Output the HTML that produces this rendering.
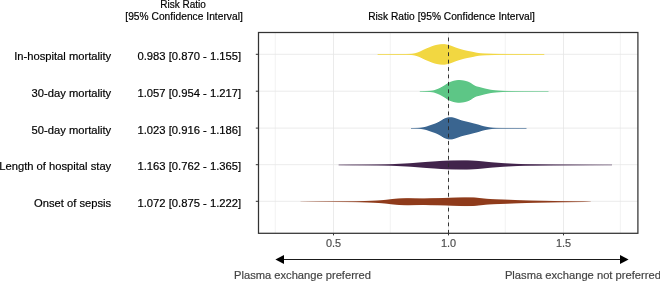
<!DOCTYPE html>
<html><head><meta charset="utf-8"><title>Forest plot</title>
<style>html,body{margin:0;padding:0;background:#fff;}body{width:660px;height:282px;position:relative;overflow:hidden;font-family:"Liberation Sans",sans-serif;}</style></head>
<body>
<svg width="660" height="282" viewBox="0 0 660 282" style="position:absolute;left:0;top:0;will-change:transform">
<rect x="0" y="0" width="660" height="282" fill="#ffffff"/>
<line x1="275.3" y1="32.5" x2="275.3" y2="233.3" stroke="#e9e9e9" stroke-width="0.55"/>
<line x1="390.3" y1="32.5" x2="390.3" y2="233.3" stroke="#e9e9e9" stroke-width="0.55"/>
<line x1="505.3" y1="32.5" x2="505.3" y2="233.3" stroke="#e9e9e9" stroke-width="0.55"/>
<line x1="620.4" y1="32.5" x2="620.4" y2="233.3" stroke="#e9e9e9" stroke-width="0.55"/>
<line x1="333.5" y1="32.5" x2="333.5" y2="233.3" stroke="#e6e6e6" stroke-width="0.8"/>
<line x1="448.5" y1="32.5" x2="448.5" y2="233.3" stroke="#e6e6e6" stroke-width="0.8"/>
<line x1="563.5" y1="32.5" x2="563.5" y2="233.3" stroke="#e6e6e6" stroke-width="0.8"/>
<line x1="258.5" y1="54.3" x2="637.9" y2="54.3" stroke="#e6e6e6" stroke-width="0.8"/>
<line x1="258.5" y1="91.2" x2="637.9" y2="91.2" stroke="#e6e6e6" stroke-width="0.8"/>
<line x1="258.5" y1="128.1" x2="637.9" y2="128.1" stroke="#e6e6e6" stroke-width="0.8"/>
<line x1="258.5" y1="164.7" x2="637.9" y2="164.7" stroke="#e6e6e6" stroke-width="0.8"/>
<line x1="258.5" y1="201.3" x2="637.9" y2="201.3" stroke="#e6e6e6" stroke-width="0.8"/>
<g fill="#F2D741" shape-rendering="auto"><rect x="377.6" y="54.02" width="0.4" height="0.76"/><rect x="378" y="54.02" width="1" height="0.76"/><rect x="379" y="54.02" width="1" height="0.76"/><rect x="380" y="54.02" width="1" height="0.76"/><rect x="381" y="54.02" width="1" height="0.77"/><rect x="382" y="54.02" width="1" height="0.77"/><rect x="383" y="54.02" width="1" height="0.77"/><rect x="384" y="54.01" width="1" height="0.77"/><rect x="385" y="54.01" width="1" height="0.77"/><rect x="386" y="54.01" width="1" height="0.78"/><rect x="387" y="54.01" width="1" height="0.78"/><rect x="388" y="54.01" width="1" height="0.78"/><rect x="389" y="54.01" width="1" height="0.78"/><rect x="390" y="54.01" width="1" height="0.79"/><rect x="391" y="54.01" width="1" height="0.79"/><rect x="392" y="54.00" width="1" height="0.79"/><rect x="393" y="54.00" width="1" height="0.80"/><rect x="394" y="54.00" width="1" height="0.80"/><rect x="395" y="54.00" width="1" height="0.80"/><rect x="396" y="54.00" width="1" height="0.80"/><rect x="397" y="54.00" width="1" height="0.81"/><rect x="398" y="54.00" width="1" height="0.81"/><rect x="399" y="53.99" width="1" height="0.81"/><rect x="400" y="53.99" width="1" height="0.82"/><rect x="401" y="53.99" width="1" height="0.82"/><rect x="402" y="53.99" width="1" height="0.82"/><rect x="403" y="53.99" width="1" height="0.83"/><rect x="404" y="53.98" width="1" height="0.84"/><rect x="405" y="53.98" width="1" height="0.85"/><rect x="406" y="53.96" width="1" height="0.87"/><rect x="407" y="53.94" width="1" height="0.92"/><rect x="408" y="53.91" width="1" height="0.98"/><rect x="409" y="53.87" width="1" height="1.05"/><rect x="410" y="53.83" width="1" height="1.14"/><rect x="411" y="53.77" width="1" height="1.26"/><rect x="412" y="53.66" width="1" height="1.48"/><rect x="413" y="53.50" width="1" height="1.79"/><rect x="414" y="53.32" width="1" height="2.16"/><rect x="415" y="53.08" width="1" height="2.65"/><rect x="416" y="52.79" width="1" height="3.23"/><rect x="417" y="52.47" width="1" height="3.87"/><rect x="418" y="52.10" width="1" height="4.59"/><rect x="419" y="51.70" width="1" height="5.40"/><rect x="420" y="51.26" width="1" height="6.28"/><rect x="421" y="50.77" width="1" height="7.27"/><rect x="422" y="50.25" width="1" height="8.30"/><rect x="423" y="49.76" width="1" height="9.28"/><rect x="424" y="49.30" width="1" height="10.20"/><rect x="425" y="48.85" width="1" height="11.10"/><rect x="426" y="48.43" width="1" height="11.95"/><rect x="427" y="48.02" width="1" height="12.76"/><rect x="428" y="47.63" width="1" height="13.55"/><rect x="429" y="47.23" width="1" height="14.35"/><rect x="430" y="46.81" width="1" height="15.18"/><rect x="431" y="46.40" width="1" height="15.99"/><rect x="432" y="46.03" width="1" height="16.74"/><rect x="433" y="45.68" width="1" height="17.43"/><rect x="434" y="45.37" width="1" height="18.06"/><rect x="435" y="45.10" width="1" height="18.59"/><rect x="436" y="44.88" width="1" height="19.04"/><rect x="437" y="44.69" width="1" height="19.43"/><rect x="438" y="44.52" width="1" height="19.77"/><rect x="439" y="44.36" width="1" height="20.09"/><rect x="440" y="44.22" width="1" height="20.36"/><rect x="441" y="44.15" width="1" height="20.50"/><rect x="442" y="44.12" width="1" height="20.56"/><rect x="443" y="44.11" width="1" height="20.59"/><rect x="444" y="44.12" width="1" height="20.57"/><rect x="445" y="44.27" width="1" height="20.26"/><rect x="446" y="44.48" width="1" height="19.85"/><rect x="447" y="44.67" width="1" height="19.45"/><rect x="448" y="44.90" width="1" height="18.99"/><rect x="449" y="45.19" width="1" height="18.42"/><rect x="450" y="45.52" width="1" height="17.76"/><rect x="451" y="45.88" width="1" height="17.04"/><rect x="452" y="46.25" width="1" height="16.29"/><rect x="453" y="46.65" width="1" height="15.50"/><rect x="454" y="47.06" width="1" height="14.68"/><rect x="455" y="47.44" width="1" height="13.92"/><rect x="456" y="47.79" width="1" height="13.22"/><rect x="457" y="48.13" width="1" height="12.54"/><rect x="458" y="48.46" width="1" height="11.89"/><rect x="459" y="48.77" width="1" height="11.27"/><rect x="460" y="49.07" width="1" height="10.67"/><rect x="461" y="49.36" width="1" height="10.09"/><rect x="462" y="49.64" width="1" height="9.51"/><rect x="463" y="49.92" width="1" height="8.96"/><rect x="464" y="50.17" width="1" height="8.45"/><rect x="465" y="50.41" width="1" height="7.98"/><rect x="466" y="50.63" width="1" height="7.54"/><rect x="467" y="50.84" width="1" height="7.12"/><rect x="468" y="51.03" width="1" height="6.75"/><rect x="469" y="51.20" width="1" height="6.39"/><rect x="470" y="51.39" width="1" height="6.02"/><rect x="471" y="51.58" width="1" height="5.63"/><rect x="472" y="51.78" width="1" height="5.23"/><rect x="473" y="52.00" width="1" height="4.81"/><rect x="474" y="52.23" width="1" height="4.34"/><rect x="475" y="52.46" width="1" height="3.87"/><rect x="476" y="52.67" width="1" height="3.47"/><rect x="477" y="52.84" width="1" height="3.12"/><rect x="478" y="52.99" width="1" height="2.82"/><rect x="479" y="53.11" width="1" height="2.58"/><rect x="480" y="53.20" width="1" height="2.39"/><rect x="481" y="53.28" width="1" height="2.24"/><rect x="482" y="53.35" width="1" height="2.10"/><rect x="483" y="53.41" width="1" height="1.98"/><rect x="484" y="53.46" width="1" height="1.88"/><rect x="485" y="53.50" width="1" height="1.80"/><rect x="486" y="53.53" width="1" height="1.73"/><rect x="487" y="53.56" width="1" height="1.67"/><rect x="488" y="53.60" width="1" height="1.61"/><rect x="489" y="53.63" width="1" height="1.54"/><rect x="490" y="53.67" width="1" height="1.46"/><rect x="491" y="53.70" width="1" height="1.39"/><rect x="492" y="53.74" width="1" height="1.33"/><rect x="493" y="53.77" width="1" height="1.27"/><rect x="494" y="53.79" width="1" height="1.22"/><rect x="495" y="53.82" width="1" height="1.17"/><rect x="496" y="53.84" width="1" height="1.12"/><rect x="497" y="53.86" width="1" height="1.08"/><rect x="498" y="53.88" width="1" height="1.04"/><rect x="499" y="53.89" width="1" height="1.01"/><rect x="500" y="53.91" width="1" height="0.99"/><rect x="501" y="53.92" width="1" height="0.97"/><rect x="502" y="53.93" width="1" height="0.95"/><rect x="503" y="53.93" width="1" height="0.93"/><rect x="504" y="53.94" width="1" height="0.92"/><rect x="505" y="53.95" width="1" height="0.90"/><rect x="506" y="53.96" width="1" height="0.89"/><rect x="507" y="53.96" width="1" height="0.88"/><rect x="508" y="53.97" width="1" height="0.87"/><rect x="509" y="53.97" width="1" height="0.86"/><rect x="510" y="53.97" width="1" height="0.86"/><rect x="511" y="53.97" width="1" height="0.85"/><rect x="512" y="53.97" width="1" height="0.85"/><rect x="513" y="53.98" width="1" height="0.85"/><rect x="514" y="53.98" width="1" height="0.84"/><rect x="515" y="53.98" width="1" height="0.84"/><rect x="516" y="53.98" width="1" height="0.84"/><rect x="517" y="53.98" width="1" height="0.84"/><rect x="518" y="53.98" width="1" height="0.83"/><rect x="519" y="53.98" width="1" height="0.83"/><rect x="520" y="53.99" width="1" height="0.83"/><rect x="521" y="53.99" width="1" height="0.83"/><rect x="522" y="53.99" width="1" height="0.82"/><rect x="523" y="53.99" width="1" height="0.82"/><rect x="524" y="53.99" width="1" height="0.82"/><rect x="525" y="53.99" width="1" height="0.82"/><rect x="526" y="53.99" width="1" height="0.82"/><rect x="527" y="53.99" width="1" height="0.81"/><rect x="528" y="53.99" width="1" height="0.81"/><rect x="529" y="53.99" width="1" height="0.81"/><rect x="530" y="54.00" width="1" height="0.81"/><rect x="531" y="54.00" width="1" height="0.81"/><rect x="532" y="54.00" width="1" height="0.81"/><rect x="533" y="54.00" width="1" height="0.81"/><rect x="534" y="54.00" width="1" height="0.80"/><rect x="535" y="54.00" width="1" height="0.80"/><rect x="536" y="54.00" width="1" height="0.80"/><rect x="537" y="54.00" width="1" height="0.80"/><rect x="538" y="54.00" width="1" height="0.80"/><rect x="539" y="54.00" width="1" height="0.80"/><rect x="540" y="54.00" width="1" height="0.80"/><rect x="541" y="54.00" width="1" height="0.80"/><rect x="542" y="54.00" width="1" height="0.80"/><rect x="543" y="54.00" width="1" height="0.80"/><rect x="544" y="54.00" width="0.3" height="0.80"/></g>
<g fill="#5DC686" shape-rendering="auto"><rect x="419.8" y="91.10" width="0.2" height="0.60"/><rect x="420" y="91.09" width="1" height="0.62"/><rect x="421" y="91.08" width="1" height="0.65"/><rect x="422" y="91.06" width="1" height="0.68"/><rect x="423" y="91.04" width="1" height="0.73"/><rect x="424" y="91.01" width="1" height="0.77"/><rect x="425" y="90.99" width="1" height="0.83"/><rect x="426" y="90.96" width="1" height="0.89"/><rect x="427" y="90.92" width="1" height="0.96"/><rect x="428" y="90.88" width="1" height="1.05"/><rect x="429" y="90.82" width="1" height="1.16"/><rect x="430" y="90.74" width="1" height="1.32"/><rect x="431" y="90.64" width="1" height="1.53"/><rect x="432" y="90.51" width="1" height="1.79"/><rect x="433" y="90.33" width="1" height="2.13"/><rect x="434" y="90.06" width="1" height="2.68"/><rect x="435" y="89.71" width="1" height="3.39"/><rect x="436" y="89.34" width="1" height="4.12"/><rect x="437" y="88.97" width="1" height="4.87"/><rect x="438" y="88.56" width="1" height="5.69"/><rect x="439" y="88.11" width="1" height="6.59"/><rect x="440" y="87.60" width="1" height="7.60"/><rect x="441" y="87.05" width="1" height="8.70"/><rect x="442" y="86.49" width="1" height="9.83"/><rect x="443" y="85.90" width="1" height="10.99"/><rect x="444" y="85.30" width="1" height="12.20"/><rect x="445" y="84.66" width="1" height="13.47"/><rect x="446" y="83.97" width="1" height="14.86"/><rect x="447" y="83.28" width="1" height="16.24"/><rect x="448" y="82.70" width="1" height="17.39"/><rect x="449" y="82.24" width="1" height="18.33"/><rect x="450" y="81.83" width="1" height="19.14"/><rect x="451" y="81.47" width="1" height="19.87"/><rect x="452" y="81.12" width="1" height="20.55"/><rect x="453" y="80.82" width="1" height="21.16"/><rect x="454" y="80.58" width="1" height="21.64"/><rect x="455" y="80.39" width="1" height="22.02"/><rect x="456" y="80.21" width="1" height="22.37"/><rect x="457" y="80.08" width="1" height="22.64"/><rect x="458" y="80.01" width="1" height="22.78"/><rect x="459" y="80.02" width="1" height="22.76"/><rect x="460" y="80.09" width="1" height="22.62"/><rect x="461" y="80.19" width="1" height="22.41"/><rect x="462" y="80.31" width="1" height="22.17"/><rect x="463" y="80.46" width="1" height="21.87"/><rect x="464" y="80.66" width="1" height="21.48"/><rect x="465" y="80.90" width="1" height="21.01"/><rect x="466" y="81.17" width="1" height="20.47"/><rect x="467" y="81.47" width="1" height="19.86"/><rect x="468" y="81.84" width="1" height="19.11"/><rect x="469" y="82.30" width="1" height="18.21"/><rect x="470" y="82.82" width="1" height="17.16"/><rect x="471" y="83.47" width="1" height="15.87"/><rect x="472" y="84.18" width="1" height="14.45"/><rect x="473" y="84.82" width="1" height="13.17"/><rect x="474" y="85.40" width="1" height="12.00"/><rect x="475" y="85.93" width="1" height="10.95"/><rect x="476" y="86.32" width="1" height="10.15"/><rect x="477" y="86.59" width="1" height="9.62"/><rect x="478" y="86.81" width="1" height="9.18"/><rect x="479" y="87.05" width="1" height="8.69"/><rect x="480" y="87.32" width="1" height="8.16"/><rect x="481" y="87.59" width="1" height="7.62"/><rect x="482" y="87.86" width="1" height="7.09"/><rect x="483" y="88.12" width="1" height="6.56"/><rect x="484" y="88.38" width="1" height="6.04"/><rect x="485" y="88.62" width="1" height="5.56"/><rect x="486" y="88.84" width="1" height="5.12"/><rect x="487" y="89.05" width="1" height="4.69"/><rect x="488" y="89.26" width="1" height="4.27"/><rect x="489" y="89.48" width="1" height="3.84"/><rect x="490" y="89.68" width="1" height="3.44"/><rect x="491" y="89.84" width="1" height="3.12"/><rect x="492" y="89.97" width="1" height="2.86"/><rect x="493" y="90.08" width="1" height="2.64"/><rect x="494" y="90.18" width="1" height="2.44"/><rect x="495" y="90.28" width="1" height="2.25"/><rect x="496" y="90.36" width="1" height="2.07"/><rect x="497" y="90.45" width="1" height="1.91"/><rect x="498" y="90.52" width="1" height="1.76"/><rect x="499" y="90.59" width="1" height="1.62"/><rect x="500" y="90.65" width="1" height="1.49"/><rect x="501" y="90.72" width="1" height="1.36"/><rect x="502" y="90.78" width="1" height="1.24"/><rect x="503" y="90.83" width="1" height="1.14"/><rect x="504" y="90.87" width="1" height="1.07"/><rect x="505" y="90.90" width="1" height="1.00"/><rect x="506" y="90.92" width="1" height="0.96"/><rect x="507" y="90.94" width="1" height="0.92"/><rect x="508" y="90.96" width="1" height="0.88"/><rect x="509" y="90.97" width="1" height="0.86"/><rect x="510" y="90.98" width="1" height="0.83"/><rect x="511" y="91.00" width="1" height="0.81"/><rect x="512" y="91.00" width="1" height="0.79"/><rect x="513" y="91.01" width="1" height="0.77"/><rect x="514" y="91.02" width="1" height="0.76"/><rect x="515" y="91.03" width="1" height="0.74"/><rect x="516" y="91.03" width="1" height="0.73"/><rect x="517" y="91.04" width="1" height="0.72"/><rect x="518" y="91.04" width="1" height="0.71"/><rect x="519" y="91.05" width="1" height="0.70"/><rect x="520" y="91.05" width="1" height="0.70"/><rect x="521" y="91.05" width="1" height="0.69"/><rect x="522" y="91.06" width="1" height="0.69"/><rect x="523" y="91.06" width="1" height="0.68"/><rect x="524" y="91.06" width="1" height="0.67"/><rect x="525" y="91.07" width="1" height="0.67"/><rect x="526" y="91.07" width="1" height="0.66"/><rect x="527" y="91.07" width="1" height="0.66"/><rect x="528" y="91.07" width="1" height="0.65"/><rect x="529" y="91.08" width="1" height="0.65"/><rect x="530" y="91.08" width="1" height="0.64"/><rect x="531" y="91.08" width="1" height="0.64"/><rect x="532" y="91.08" width="1" height="0.64"/><rect x="533" y="91.08" width="1" height="0.63"/><rect x="534" y="91.09" width="1" height="0.63"/><rect x="535" y="91.09" width="1" height="0.62"/><rect x="536" y="91.09" width="1" height="0.62"/><rect x="537" y="91.09" width="1" height="0.62"/><rect x="538" y="91.09" width="1" height="0.61"/><rect x="539" y="91.09" width="1" height="0.61"/><rect x="540" y="91.10" width="1" height="0.61"/><rect x="541" y="91.10" width="1" height="0.61"/><rect x="542" y="91.10" width="1" height="0.61"/><rect x="543" y="91.10" width="1" height="0.60"/><rect x="544" y="91.10" width="1" height="0.60"/><rect x="545" y="91.10" width="1" height="0.60"/><rect x="546" y="91.10" width="1" height="0.60"/><rect x="547" y="91.10" width="1" height="0.60"/><rect x="548" y="91.10" width="0.5" height="0.60"/></g>
<g fill="#3A6590" shape-rendering="auto"><rect x="411" y="128.00" width="1" height="0.61"/><rect x="412" y="127.99" width="1" height="0.62"/><rect x="413" y="127.98" width="1" height="0.65"/><rect x="414" y="127.96" width="1" height="0.68"/><rect x="415" y="127.94" width="1" height="0.72"/><rect x="416" y="127.91" width="1" height="0.77"/><rect x="417" y="127.88" width="1" height="0.84"/><rect x="418" y="127.83" width="1" height="0.94"/><rect x="419" y="127.76" width="1" height="1.08"/><rect x="420" y="127.67" width="1" height="1.26"/><rect x="421" y="127.54" width="1" height="1.52"/><rect x="422" y="127.38" width="1" height="1.83"/><rect x="423" y="127.21" width="1" height="2.18"/><rect x="424" y="127.01" width="1" height="2.58"/><rect x="425" y="126.78" width="1" height="3.04"/><rect x="426" y="126.51" width="1" height="3.58"/><rect x="427" y="126.18" width="1" height="4.24"/><rect x="428" y="125.81" width="1" height="4.97"/><rect x="429" y="125.46" width="1" height="5.67"/><rect x="430" y="125.12" width="1" height="6.36"/><rect x="431" y="124.78" width="1" height="7.05"/><rect x="432" y="124.44" width="1" height="7.73"/><rect x="433" y="124.10" width="1" height="8.40"/><rect x="434" y="123.76" width="1" height="9.08"/><rect x="435" y="123.38" width="1" height="9.84"/><rect x="436" y="122.95" width="1" height="10.69"/><rect x="437" y="122.49" width="1" height="11.62"/><rect x="438" y="121.99" width="1" height="12.62"/><rect x="439" y="121.44" width="1" height="13.71"/><rect x="440" y="120.86" width="1" height="14.87"/><rect x="441" y="120.26" width="1" height="16.07"/><rect x="442" y="119.62" width="1" height="17.36"/><rect x="443" y="119.00" width="1" height="18.60"/><rect x="444" y="118.50" width="1" height="19.60"/><rect x="445" y="118.10" width="1" height="20.40"/><rect x="446" y="117.76" width="1" height="21.08"/><rect x="447" y="117.49" width="1" height="21.62"/><rect x="448" y="117.27" width="1" height="22.06"/><rect x="449" y="117.20" width="1" height="22.20"/><rect x="450" y="117.20" width="1" height="22.20"/><rect x="451" y="117.21" width="1" height="22.18"/><rect x="452" y="117.34" width="1" height="21.93"/><rect x="453" y="117.59" width="1" height="21.42"/><rect x="454" y="117.87" width="1" height="20.86"/><rect x="455" y="118.19" width="1" height="20.22"/><rect x="456" y="118.54" width="1" height="19.53"/><rect x="457" y="118.89" width="1" height="18.81"/><rect x="458" y="119.27" width="1" height="18.07"/><rect x="459" y="119.64" width="1" height="17.32"/><rect x="460" y="120.01" width="1" height="16.58"/><rect x="461" y="120.34" width="1" height="15.93"/><rect x="462" y="120.61" width="1" height="15.37"/><rect x="463" y="120.87" width="1" height="14.87"/><rect x="464" y="121.11" width="1" height="14.37"/><rect x="465" y="121.35" width="1" height="13.90"/><rect x="466" y="121.58" width="1" height="13.44"/><rect x="467" y="121.82" width="1" height="12.96"/><rect x="468" y="122.06" width="1" height="12.49"/><rect x="469" y="122.30" width="1" height="12.00"/><rect x="470" y="122.55" width="1" height="11.50"/><rect x="471" y="122.82" width="1" height="10.96"/><rect x="472" y="123.09" width="1" height="10.42"/><rect x="473" y="123.35" width="1" height="9.90"/><rect x="474" y="123.60" width="1" height="9.40"/><rect x="475" y="123.84" width="1" height="8.91"/><rect x="476" y="124.10" width="1" height="8.41"/><rect x="477" y="124.36" width="1" height="7.88"/><rect x="478" y="124.63" width="1" height="7.33"/><rect x="479" y="124.94" width="1" height="6.72"/><rect x="480" y="125.29" width="1" height="6.02"/><rect x="481" y="125.62" width="1" height="5.36"/><rect x="482" y="125.90" width="1" height="4.80"/><rect x="483" y="126.16" width="1" height="4.29"/><rect x="484" y="126.39" width="1" height="3.82"/><rect x="485" y="126.60" width="1" height="3.40"/><rect x="486" y="126.79" width="1" height="3.02"/><rect x="487" y="126.97" width="1" height="2.66"/><rect x="488" y="127.14" width="1" height="2.31"/><rect x="489" y="127.30" width="1" height="2.00"/><rect x="490" y="127.44" width="1" height="1.72"/><rect x="491" y="127.56" width="1" height="1.48"/><rect x="492" y="127.66" width="1" height="1.27"/><rect x="493" y="127.74" width="1" height="1.13"/><rect x="494" y="127.79" width="1" height="1.02"/><rect x="495" y="127.84" width="1" height="0.93"/><rect x="496" y="127.87" width="1" height="0.86"/><rect x="497" y="127.89" width="1" height="0.82"/><rect x="498" y="127.91" width="1" height="0.79"/><rect x="499" y="127.92" width="1" height="0.76"/><rect x="500" y="127.93" width="1" height="0.73"/><rect x="501" y="127.94" width="1" height="0.72"/><rect x="502" y="127.95" width="1" height="0.70"/><rect x="503" y="127.95" width="1" height="0.70"/><rect x="504" y="127.95" width="1" height="0.69"/><rect x="505" y="127.96" width="1" height="0.69"/><rect x="506" y="127.96" width="1" height="0.68"/><rect x="507" y="127.96" width="1" height="0.68"/><rect x="508" y="127.96" width="1" height="0.67"/><rect x="509" y="127.96" width="1" height="0.67"/><rect x="510" y="127.97" width="1" height="0.67"/><rect x="511" y="127.97" width="1" height="0.66"/><rect x="512" y="127.97" width="1" height="0.66"/><rect x="513" y="127.97" width="1" height="0.66"/><rect x="514" y="127.97" width="1" height="0.65"/><rect x="515" y="127.97" width="1" height="0.65"/><rect x="516" y="127.98" width="1" height="0.65"/><rect x="517" y="127.98" width="1" height="0.65"/><rect x="518" y="127.98" width="1" height="0.65"/><rect x="519" y="127.98" width="1" height="0.64"/><rect x="520" y="127.98" width="1" height="0.64"/><rect x="521" y="127.98" width="1" height="0.64"/><rect x="522" y="127.98" width="1" height="0.64"/><rect x="523" y="127.98" width="1" height="0.64"/><rect x="524" y="127.98" width="1" height="0.64"/><rect x="525" y="127.98" width="1" height="0.64"/><rect x="526" y="127.98" width="0.5" height="0.64"/></g>
<g fill="#42244C" shape-rendering="auto"><rect x="338.6" y="164.65" width="0.4" height="0.60"/><rect x="339" y="164.64" width="1" height="0.62"/><rect x="340" y="164.63" width="1" height="0.64"/><rect x="341" y="164.62" width="1" height="0.66"/><rect x="342" y="164.61" width="1" height="0.68"/><rect x="343" y="164.60" width="1" height="0.69"/><rect x="344" y="164.59" width="1" height="0.71"/><rect x="345" y="164.59" width="1" height="0.73"/><rect x="346" y="164.58" width="1" height="0.75"/><rect x="347" y="164.57" width="1" height="0.76"/><rect x="348" y="164.56" width="1" height="0.78"/><rect x="349" y="164.55" width="1" height="0.79"/><rect x="350" y="164.55" width="1" height="0.81"/><rect x="351" y="164.54" width="1" height="0.82"/><rect x="352" y="164.54" width="1" height="0.83"/><rect x="353" y="164.53" width="1" height="0.84"/><rect x="354" y="164.53" width="1" height="0.85"/><rect x="355" y="164.52" width="1" height="0.85"/><rect x="356" y="164.52" width="1" height="0.86"/><rect x="357" y="164.51" width="1" height="0.87"/><rect x="358" y="164.51" width="1" height="0.88"/><rect x="359" y="164.51" width="1" height="0.89"/><rect x="360" y="164.50" width="1" height="0.90"/><rect x="361" y="164.50" width="1" height="0.90"/><rect x="362" y="164.49" width="1" height="0.91"/><rect x="363" y="164.49" width="1" height="0.92"/><rect x="364" y="164.48" width="1" height="0.93"/><rect x="365" y="164.48" width="1" height="0.95"/><rect x="366" y="164.47" width="1" height="0.96"/><rect x="367" y="164.46" width="1" height="0.97"/><rect x="368" y="164.46" width="1" height="0.98"/><rect x="369" y="164.45" width="1" height="1.00"/><rect x="370" y="164.44" width="1" height="1.01"/><rect x="371" y="164.44" width="1" height="1.03"/><rect x="372" y="164.43" width="1" height="1.04"/><rect x="373" y="164.42" width="1" height="1.06"/><rect x="374" y="164.41" width="1" height="1.08"/><rect x="375" y="164.40" width="1" height="1.10"/><rect x="376" y="164.39" width="1" height="1.11"/><rect x="377" y="164.38" width="1" height="1.13"/><rect x="378" y="164.37" width="1" height="1.15"/><rect x="379" y="164.36" width="1" height="1.18"/><rect x="380" y="164.35" width="1" height="1.20"/><rect x="381" y="164.34" width="1" height="1.22"/><rect x="382" y="164.32" width="1" height="1.25"/><rect x="383" y="164.31" width="1" height="1.28"/><rect x="384" y="164.29" width="1" height="1.31"/><rect x="385" y="164.28" width="1" height="1.35"/><rect x="386" y="164.26" width="1" height="1.39"/><rect x="387" y="164.24" width="1" height="1.43"/><rect x="388" y="164.21" width="1" height="1.47"/><rect x="389" y="164.19" width="1" height="1.52"/><rect x="390" y="164.16" width="1" height="1.57"/><rect x="391" y="164.13" width="1" height="1.63"/><rect x="392" y="164.10" width="1" height="1.71"/><rect x="393" y="164.06" width="1" height="1.79"/><rect x="394" y="164.01" width="1" height="1.88"/><rect x="395" y="163.96" width="1" height="1.98"/><rect x="396" y="163.91" width="1" height="2.08"/><rect x="397" y="163.86" width="1" height="2.18"/><rect x="398" y="163.81" width="1" height="2.28"/><rect x="399" y="163.76" width="1" height="2.39"/><rect x="400" y="163.71" width="1" height="2.49"/><rect x="401" y="163.66" width="1" height="2.59"/><rect x="402" y="163.61" width="1" height="2.69"/><rect x="403" y="163.56" width="1" height="2.79"/><rect x="404" y="163.51" width="1" height="2.89"/><rect x="405" y="163.46" width="1" height="2.99"/><rect x="406" y="163.40" width="1" height="3.10"/><rect x="407" y="163.35" width="1" height="3.20"/><rect x="408" y="163.29" width="1" height="3.32"/><rect x="409" y="163.23" width="1" height="3.44"/><rect x="410" y="163.17" width="1" height="3.56"/><rect x="411" y="163.10" width="1" height="3.70"/><rect x="412" y="163.03" width="1" height="3.84"/><rect x="413" y="162.95" width="1" height="4.00"/><rect x="414" y="162.87" width="1" height="4.17"/><rect x="415" y="162.78" width="1" height="4.33"/><rect x="416" y="162.70" width="1" height="4.50"/><rect x="417" y="162.61" width="1" height="4.67"/><rect x="418" y="162.53" width="1" height="4.83"/><rect x="419" y="162.45" width="1" height="4.99"/><rect x="420" y="162.37" width="1" height="5.15"/><rect x="421" y="162.29" width="1" height="5.31"/><rect x="422" y="162.22" width="1" height="5.47"/><rect x="423" y="162.14" width="1" height="5.62"/><rect x="424" y="162.06" width="1" height="5.78"/><rect x="425" y="161.99" width="1" height="5.93"/><rect x="426" y="161.91" width="1" height="6.07"/><rect x="427" y="161.84" width="1" height="6.21"/><rect x="428" y="161.78" width="1" height="6.35"/><rect x="429" y="161.71" width="1" height="6.48"/><rect x="430" y="161.65" width="1" height="6.61"/><rect x="431" y="161.58" width="1" height="6.74"/><rect x="432" y="161.52" width="1" height="6.87"/><rect x="433" y="161.45" width="1" height="7.00"/><rect x="434" y="161.38" width="1" height="7.13"/><rect x="435" y="161.32" width="1" height="7.27"/><rect x="436" y="161.24" width="1" height="7.42"/><rect x="437" y="161.17" width="1" height="7.57"/><rect x="438" y="161.09" width="1" height="7.72"/><rect x="439" y="161.02" width="1" height="7.87"/><rect x="440" y="160.95" width="1" height="8.01"/><rect x="441" y="160.88" width="1" height="8.14"/><rect x="442" y="160.82" width="1" height="8.25"/><rect x="443" y="160.78" width="1" height="8.34"/><rect x="444" y="160.73" width="1" height="8.43"/><rect x="445" y="160.69" width="1" height="8.52"/><rect x="446" y="160.65" width="1" height="8.60"/><rect x="447" y="160.61" width="1" height="8.68"/><rect x="448" y="160.58" width="1" height="8.75"/><rect x="449" y="160.54" width="1" height="8.81"/><rect x="450" y="160.51" width="1" height="8.87"/><rect x="451" y="160.49" width="1" height="8.92"/><rect x="452" y="160.47" width="1" height="8.96"/><rect x="453" y="160.45" width="1" height="9.00"/><rect x="454" y="160.44" width="1" height="9.02"/><rect x="455" y="160.43" width="1" height="9.05"/><rect x="456" y="160.41" width="1" height="9.07"/><rect x="457" y="160.40" width="1" height="9.10"/><rect x="458" y="160.39" width="1" height="9.12"/><rect x="459" y="160.38" width="1" height="9.14"/><rect x="460" y="160.37" width="1" height="9.16"/><rect x="461" y="160.36" width="1" height="9.17"/><rect x="462" y="160.36" width="1" height="9.18"/><rect x="463" y="160.35" width="1" height="9.19"/><rect x="464" y="160.35" width="1" height="9.20"/><rect x="465" y="160.35" width="1" height="9.20"/><rect x="466" y="160.36" width="1" height="9.19"/><rect x="467" y="160.37" width="1" height="9.16"/><rect x="468" y="160.40" width="1" height="9.10"/><rect x="469" y="160.44" width="1" height="9.03"/><rect x="470" y="160.48" width="1" height="8.94"/><rect x="471" y="160.53" width="1" height="8.84"/><rect x="472" y="160.58" width="1" height="8.74"/><rect x="473" y="160.64" width="1" height="8.62"/><rect x="474" y="160.70" width="1" height="8.50"/><rect x="475" y="160.76" width="1" height="8.38"/><rect x="476" y="160.82" width="1" height="8.26"/><rect x="477" y="160.89" width="1" height="8.12"/><rect x="478" y="160.97" width="1" height="7.96"/><rect x="479" y="161.06" width="1" height="7.78"/><rect x="480" y="161.16" width="1" height="7.59"/><rect x="481" y="161.25" width="1" height="7.40"/><rect x="482" y="161.35" width="1" height="7.20"/><rect x="483" y="161.45" width="1" height="7.00"/><rect x="484" y="161.56" width="1" height="6.78"/><rect x="485" y="161.67" width="1" height="6.57"/><rect x="486" y="161.77" width="1" height="6.36"/><rect x="487" y="161.87" width="1" height="6.16"/><rect x="488" y="161.97" width="1" height="5.96"/><rect x="489" y="162.06" width="1" height="5.77"/><rect x="490" y="162.16" width="1" height="5.58"/><rect x="491" y="162.25" width="1" height="5.40"/><rect x="492" y="162.33" width="1" height="5.23"/><rect x="493" y="162.41" width="1" height="5.08"/><rect x="494" y="162.49" width="1" height="4.93"/><rect x="495" y="162.56" width="1" height="4.78"/><rect x="496" y="162.63" width="1" height="4.63"/><rect x="497" y="162.71" width="1" height="4.48"/><rect x="498" y="162.79" width="1" height="4.33"/><rect x="499" y="162.86" width="1" height="4.17"/><rect x="500" y="162.94" width="1" height="4.02"/><rect x="501" y="163.02" width="1" height="3.87"/><rect x="502" y="163.09" width="1" height="3.73"/><rect x="503" y="163.15" width="1" height="3.60"/><rect x="504" y="163.21" width="1" height="3.48"/><rect x="505" y="163.26" width="1" height="3.37"/><rect x="506" y="163.32" width="1" height="3.27"/><rect x="507" y="163.37" width="1" height="3.16"/><rect x="508" y="163.42" width="1" height="3.05"/><rect x="509" y="163.48" width="1" height="2.95"/><rect x="510" y="163.53" width="1" height="2.84"/><rect x="511" y="163.59" width="1" height="2.73"/><rect x="512" y="163.64" width="1" height="2.62"/><rect x="513" y="163.69" width="1" height="2.52"/><rect x="514" y="163.74" width="1" height="2.42"/><rect x="515" y="163.79" width="1" height="2.32"/><rect x="516" y="163.84" width="1" height="2.22"/><rect x="517" y="163.88" width="1" height="2.14"/><rect x="518" y="163.92" width="1" height="2.06"/><rect x="519" y="163.95" width="1" height="1.99"/><rect x="520" y="163.99" width="1" height="1.93"/><rect x="521" y="164.02" width="1" height="1.87"/><rect x="522" y="164.05" width="1" height="1.81"/><rect x="523" y="164.07" width="1" height="1.76"/><rect x="524" y="164.09" width="1" height="1.72"/><rect x="525" y="164.11" width="1" height="1.68"/><rect x="526" y="164.12" width="1" height="1.66"/><rect x="527" y="164.14" width="1" height="1.63"/><rect x="528" y="164.15" width="1" height="1.61"/><rect x="529" y="164.16" width="1" height="1.58"/><rect x="530" y="164.17" width="1" height="1.56"/><rect x="531" y="164.18" width="1" height="1.54"/><rect x="532" y="164.19" width="1" height="1.53"/><rect x="533" y="164.20" width="1" height="1.51"/><rect x="534" y="164.21" width="1" height="1.49"/><rect x="535" y="164.21" width="1" height="1.47"/><rect x="536" y="164.23" width="1" height="1.45"/><rect x="537" y="164.24" width="1" height="1.43"/><rect x="538" y="164.25" width="1" height="1.41"/><rect x="539" y="164.26" width="1" height="1.39"/><rect x="540" y="164.27" width="1" height="1.36"/><rect x="541" y="164.28" width="1" height="1.34"/><rect x="542" y="164.29" width="1" height="1.32"/><rect x="543" y="164.30" width="1" height="1.30"/><rect x="544" y="164.31" width="1" height="1.28"/><rect x="545" y="164.32" width="1" height="1.26"/><rect x="546" y="164.33" width="1" height="1.24"/><rect x="547" y="164.34" width="1" height="1.22"/><rect x="548" y="164.35" width="1" height="1.20"/><rect x="549" y="164.36" width="1" height="1.18"/><rect x="550" y="164.37" width="1" height="1.16"/><rect x="551" y="164.38" width="1" height="1.15"/><rect x="552" y="164.38" width="1" height="1.13"/><rect x="553" y="164.39" width="1" height="1.11"/><rect x="554" y="164.40" width="1" height="1.10"/><rect x="555" y="164.41" width="1" height="1.09"/><rect x="556" y="164.41" width="1" height="1.07"/><rect x="557" y="164.42" width="1" height="1.06"/><rect x="558" y="164.43" width="1" height="1.05"/><rect x="559" y="164.43" width="1" height="1.04"/><rect x="560" y="164.44" width="1" height="1.03"/><rect x="561" y="164.44" width="1" height="1.01"/><rect x="562" y="164.45" width="1" height="1.00"/><rect x="563" y="164.45" width="1" height="0.99"/><rect x="564" y="164.46" width="1" height="0.98"/><rect x="565" y="164.46" width="1" height="0.97"/><rect x="566" y="164.47" width="1" height="0.96"/><rect x="567" y="164.47" width="1" height="0.95"/><rect x="568" y="164.48" width="1" height="0.94"/><rect x="569" y="164.48" width="1" height="0.93"/><rect x="570" y="164.49" width="1" height="0.92"/><rect x="571" y="164.49" width="1" height="0.91"/><rect x="572" y="164.50" width="1" height="0.90"/><rect x="573" y="164.50" width="1" height="0.89"/><rect x="574" y="164.51" width="1" height="0.88"/><rect x="575" y="164.51" width="1" height="0.87"/><rect x="576" y="164.52" width="1" height="0.86"/><rect x="577" y="164.52" width="1" height="0.85"/><rect x="578" y="164.53" width="1" height="0.84"/><rect x="579" y="164.54" width="1" height="0.83"/><rect x="580" y="164.54" width="1" height="0.82"/><rect x="581" y="164.55" width="1" height="0.81"/><rect x="582" y="164.55" width="1" height="0.80"/><rect x="583" y="164.56" width="1" height="0.79"/><rect x="584" y="164.56" width="1" height="0.78"/><rect x="585" y="164.56" width="1" height="0.77"/><rect x="586" y="164.57" width="1" height="0.76"/><rect x="587" y="164.57" width="1" height="0.75"/><rect x="588" y="164.58" width="1" height="0.74"/><rect x="589" y="164.58" width="1" height="0.73"/><rect x="590" y="164.59" width="1" height="0.72"/><rect x="591" y="164.59" width="1" height="0.72"/><rect x="592" y="164.60" width="1" height="0.71"/><rect x="593" y="164.60" width="1" height="0.70"/><rect x="594" y="164.60" width="1" height="0.69"/><rect x="595" y="164.61" width="1" height="0.68"/><rect x="596" y="164.61" width="1" height="0.67"/><rect x="597" y="164.62" width="1" height="0.67"/><rect x="598" y="164.62" width="1" height="0.66"/><rect x="599" y="164.63" width="1" height="0.65"/><rect x="600" y="164.63" width="1" height="0.64"/><rect x="601" y="164.63" width="1" height="0.63"/><rect x="602" y="164.64" width="1" height="0.63"/><rect x="603" y="164.64" width="1" height="0.62"/><rect x="604" y="164.64" width="1" height="0.61"/><rect x="605" y="164.65" width="1" height="0.60"/><rect x="606" y="164.65" width="1" height="0.60"/><rect x="607" y="164.65" width="1" height="0.59"/><rect x="608" y="164.66" width="1" height="0.58"/><rect x="609" y="164.66" width="1" height="0.58"/><rect x="610" y="164.67" width="1" height="0.57"/><rect x="611" y="164.67" width="1" height="0.56"/></g>
<line x1="448.5" y1="233.70000000000002" x2="448.5" y2="36.0" stroke="#2a2a2a" stroke-width="0.95" stroke-dasharray="3.8 3.6"/>
<g fill="#8F3B1B" shape-rendering="auto"><rect x="300.5" y="201.62" width="0.5" height="0.16"/><rect x="301" y="201.61" width="1" height="0.18"/><rect x="302" y="201.60" width="1" height="0.20"/><rect x="303" y="201.59" width="1" height="0.22"/><rect x="304" y="201.58" width="1" height="0.24"/><rect x="305" y="201.57" width="1" height="0.25"/><rect x="306" y="201.56" width="1" height="0.27"/><rect x="307" y="201.56" width="1" height="0.29"/><rect x="308" y="201.55" width="1" height="0.30"/><rect x="309" y="201.54" width="1" height="0.32"/><rect x="310" y="201.53" width="1" height="0.34"/><rect x="311" y="201.52" width="1" height="0.35"/><rect x="312" y="201.52" width="1" height="0.37"/><rect x="313" y="201.51" width="1" height="0.38"/><rect x="314" y="201.50" width="1" height="0.39"/><rect x="315" y="201.50" width="1" height="0.41"/><rect x="316" y="201.49" width="1" height="0.42"/><rect x="317" y="201.49" width="1" height="0.43"/><rect x="318" y="201.48" width="1" height="0.44"/><rect x="319" y="201.47" width="1" height="0.45"/><rect x="320" y="201.47" width="1" height="0.46"/><rect x="321" y="201.47" width="1" height="0.47"/><rect x="322" y="201.46" width="1" height="0.48"/><rect x="323" y="201.46" width="1" height="0.49"/><rect x="324" y="201.45" width="1" height="0.50"/><rect x="325" y="201.45" width="1" height="0.51"/><rect x="326" y="201.44" width="1" height="0.51"/><rect x="327" y="201.44" width="1" height="0.52"/><rect x="328" y="201.43" width="1" height="0.53"/><rect x="329" y="201.43" width="1" height="0.54"/><rect x="330" y="201.42" width="1" height="0.55"/><rect x="331" y="201.42" width="1" height="0.56"/><rect x="332" y="201.41" width="1" height="0.57"/><rect x="333" y="201.41" width="1" height="0.58"/><rect x="334" y="201.40" width="1" height="0.59"/><rect x="335" y="201.40" width="1" height="0.61"/><rect x="336" y="201.39" width="1" height="0.62"/><rect x="337" y="201.39" width="1" height="0.63"/><rect x="338" y="201.38" width="1" height="0.64"/><rect x="339" y="201.37" width="1" height="0.65"/><rect x="340" y="201.37" width="1" height="0.66"/><rect x="341" y="201.36" width="1" height="0.67"/><rect x="342" y="201.36" width="1" height="0.69"/><rect x="343" y="201.35" width="1" height="0.70"/><rect x="344" y="201.34" width="1" height="0.71"/><rect x="345" y="201.34" width="1" height="0.72"/><rect x="346" y="201.33" width="1" height="0.74"/><rect x="347" y="201.32" width="1" height="0.75"/><rect x="348" y="201.32" width="1" height="0.77"/><rect x="349" y="201.31" width="1" height="0.79"/><rect x="350" y="201.30" width="1" height="0.80"/><rect x="351" y="201.29" width="1" height="0.82"/><rect x="352" y="201.28" width="1" height="0.84"/><rect x="353" y="201.27" width="1" height="0.86"/><rect x="354" y="201.26" width="1" height="0.89"/><rect x="355" y="201.24" width="1" height="0.91"/><rect x="356" y="201.23" width="1" height="0.95"/><rect x="357" y="201.20" width="1" height="0.99"/><rect x="358" y="201.18" width="1" height="1.04"/><rect x="359" y="201.15" width="1" height="1.09"/><rect x="360" y="201.12" width="1" height="1.15"/><rect x="361" y="201.09" width="1" height="1.21"/><rect x="362" y="201.06" width="1" height="1.27"/><rect x="363" y="201.04" width="1" height="1.33"/><rect x="364" y="201.00" width="1" height="1.39"/><rect x="365" y="200.97" width="1" height="1.46"/><rect x="366" y="200.94" width="1" height="1.52"/><rect x="367" y="200.90" width="1" height="1.59"/><rect x="368" y="200.87" width="1" height="1.67"/><rect x="369" y="200.83" width="1" height="1.75"/><rect x="370" y="200.79" width="1" height="1.82"/><rect x="371" y="200.75" width="1" height="1.90"/><rect x="372" y="200.71" width="1" height="1.99"/><rect x="373" y="200.66" width="1" height="2.07"/><rect x="374" y="200.62" width="1" height="2.17"/><rect x="375" y="200.57" width="1" height="2.26"/><rect x="376" y="200.52" width="1" height="2.37"/><rect x="377" y="200.46" width="1" height="2.48"/><rect x="378" y="200.40" width="1" height="2.60"/><rect x="379" y="200.33" width="1" height="2.73"/><rect x="380" y="200.26" width="1" height="2.88"/><rect x="381" y="200.18" width="1" height="3.03"/><rect x="382" y="200.10" width="1" height="3.20"/><rect x="383" y="200.02" width="1" height="3.37"/><rect x="384" y="199.92" width="1" height="3.55"/><rect x="385" y="199.83" width="1" height="3.74"/><rect x="386" y="199.72" width="1" height="3.95"/><rect x="387" y="199.60" width="1" height="4.19"/><rect x="388" y="199.48" width="1" height="4.44"/><rect x="389" y="199.35" width="1" height="4.70"/><rect x="390" y="199.22" width="1" height="4.96"/><rect x="391" y="199.10" width="1" height="5.20"/><rect x="392" y="198.99" width="1" height="5.42"/><rect x="393" y="198.89" width="1" height="5.61"/><rect x="394" y="198.80" width="1" height="5.80"/><rect x="395" y="198.70" width="1" height="5.99"/><rect x="396" y="198.62" width="1" height="6.17"/><rect x="397" y="198.53" width="1" height="6.33"/><rect x="398" y="198.46" width="1" height="6.48"/><rect x="399" y="198.40" width="1" height="6.60"/><rect x="400" y="198.35" width="1" height="6.70"/><rect x="401" y="198.31" width="1" height="6.78"/><rect x="402" y="198.27" width="1" height="6.86"/><rect x="403" y="198.24" width="1" height="6.93"/><rect x="404" y="198.21" width="1" height="6.99"/><rect x="405" y="198.18" width="1" height="7.04"/><rect x="406" y="198.16" width="1" height="7.08"/><rect x="407" y="198.15" width="1" height="7.10"/><rect x="408" y="198.15" width="1" height="7.10"/><rect x="409" y="198.16" width="1" height="7.08"/><rect x="410" y="198.18" width="1" height="7.04"/><rect x="411" y="198.20" width="1" height="6.99"/><rect x="412" y="198.23" width="1" height="6.94"/><rect x="413" y="198.25" width="1" height="6.89"/><rect x="414" y="198.28" width="1" height="6.84"/><rect x="415" y="198.30" width="1" height="6.80"/><rect x="416" y="198.31" width="1" height="6.77"/><rect x="417" y="198.33" width="1" height="6.74"/><rect x="418" y="198.35" width="1" height="6.70"/><rect x="419" y="198.37" width="1" height="6.67"/><rect x="420" y="198.38" width="1" height="6.64"/><rect x="421" y="198.39" width="1" height="6.62"/><rect x="422" y="198.40" width="1" height="6.60"/><rect x="423" y="198.40" width="1" height="6.60"/><rect x="424" y="198.39" width="1" height="6.63"/><rect x="425" y="198.36" width="1" height="6.67"/><rect x="426" y="198.33" width="1" height="6.73"/><rect x="427" y="198.30" width="1" height="6.80"/><rect x="428" y="198.26" width="1" height="6.87"/><rect x="429" y="198.23" width="1" height="6.94"/><rect x="430" y="198.21" width="1" height="6.99"/><rect x="431" y="198.19" width="1" height="7.02"/><rect x="432" y="198.17" width="1" height="7.05"/><rect x="433" y="198.16" width="1" height="7.08"/><rect x="434" y="198.15" width="1" height="7.10"/><rect x="435" y="198.14" width="1" height="7.12"/><rect x="436" y="198.13" width="1" height="7.15"/><rect x="437" y="198.11" width="1" height="7.17"/><rect x="438" y="198.10" width="1" height="7.21"/><rect x="439" y="198.08" width="1" height="7.25"/><rect x="440" y="198.05" width="1" height="7.29"/><rect x="441" y="198.03" width="1" height="7.34"/><rect x="442" y="198.00" width="1" height="7.40"/><rect x="443" y="197.97" width="1" height="7.45"/><rect x="444" y="197.94" width="1" height="7.51"/><rect x="445" y="197.91" width="1" height="7.57"/><rect x="446" y="197.88" width="1" height="7.64"/><rect x="447" y="197.84" width="1" height="7.72"/><rect x="448" y="197.80" width="1" height="7.80"/><rect x="449" y="197.76" width="1" height="7.89"/><rect x="450" y="197.71" width="1" height="7.98"/><rect x="451" y="197.67" width="1" height="8.06"/><rect x="452" y="197.63" width="1" height="8.14"/><rect x="453" y="197.60" width="1" height="8.20"/><rect x="454" y="197.57" width="1" height="8.26"/><rect x="455" y="197.54" width="1" height="8.32"/><rect x="456" y="197.51" width="1" height="8.38"/><rect x="457" y="197.48" width="1" height="8.43"/><rect x="458" y="197.46" width="1" height="8.49"/><rect x="459" y="197.43" width="1" height="8.54"/><rect x="460" y="197.41" width="1" height="8.59"/><rect x="461" y="197.39" width="1" height="8.63"/><rect x="462" y="197.37" width="1" height="8.66"/><rect x="463" y="197.36" width="1" height="8.68"/><rect x="464" y="197.35" width="1" height="8.70"/><rect x="465" y="197.35" width="1" height="8.70"/><rect x="466" y="197.35" width="1" height="8.70"/><rect x="467" y="197.36" width="1" height="8.69"/><rect x="468" y="197.36" width="1" height="8.68"/><rect x="469" y="197.37" width="1" height="8.66"/><rect x="470" y="197.38" width="1" height="8.65"/><rect x="471" y="197.39" width="1" height="8.63"/><rect x="472" y="197.40" width="1" height="8.60"/><rect x="473" y="197.42" width="1" height="8.55"/><rect x="474" y="197.48" width="1" height="8.43"/><rect x="475" y="197.57" width="1" height="8.26"/><rect x="476" y="197.67" width="1" height="8.06"/><rect x="477" y="197.79" width="1" height="7.83"/><rect x="478" y="197.90" width="1" height="7.59"/><rect x="479" y="198.02" width="1" height="7.37"/><rect x="480" y="198.12" width="1" height="7.16"/><rect x="481" y="198.22" width="1" height="6.96"/><rect x="482" y="198.33" width="1" height="6.75"/><rect x="483" y="198.44" width="1" height="6.53"/><rect x="484" y="198.54" width="1" height="6.32"/><rect x="485" y="198.64" width="1" height="6.11"/><rect x="486" y="198.74" width="1" height="5.92"/><rect x="487" y="198.82" width="1" height="5.76"/><rect x="488" y="198.89" width="1" height="5.62"/><rect x="489" y="198.95" width="1" height="5.49"/><rect x="490" y="199.01" width="1" height="5.38"/><rect x="491" y="199.07" width="1" height="5.27"/><rect x="492" y="199.12" width="1" height="5.17"/><rect x="493" y="199.16" width="1" height="5.07"/><rect x="494" y="199.21" width="1" height="4.98"/><rect x="495" y="199.25" width="1" height="4.90"/><rect x="496" y="199.29" width="1" height="4.82"/><rect x="497" y="199.32" width="1" height="4.75"/><rect x="498" y="199.36" width="1" height="4.69"/><rect x="499" y="199.39" width="1" height="4.63"/><rect x="500" y="199.42" width="1" height="4.56"/><rect x="501" y="199.45" width="1" height="4.50"/><rect x="502" y="199.48" width="1" height="4.43"/><rect x="503" y="199.52" width="1" height="4.36"/><rect x="504" y="199.56" width="1" height="4.29"/><rect x="505" y="199.59" width="1" height="4.21"/><rect x="506" y="199.63" width="1" height="4.14"/><rect x="507" y="199.67" width="1" height="4.06"/><rect x="508" y="199.71" width="1" height="3.98"/><rect x="509" y="199.75" width="1" height="3.89"/><rect x="510" y="199.80" width="1" height="3.81"/><rect x="511" y="199.84" width="1" height="3.72"/><rect x="512" y="199.89" width="1" height="3.63"/><rect x="513" y="199.93" width="1" height="3.53"/><rect x="514" y="199.98" width="1" height="3.44"/><rect x="515" y="200.02" width="1" height="3.36"/><rect x="516" y="200.06" width="1" height="3.28"/><rect x="517" y="200.10" width="1" height="3.21"/><rect x="518" y="200.13" width="1" height="3.14"/><rect x="519" y="200.17" width="1" height="3.07"/><rect x="520" y="200.20" width="1" height="3.00"/><rect x="521" y="200.23" width="1" height="2.93"/><rect x="522" y="200.27" width="1" height="2.87"/><rect x="523" y="200.30" width="1" height="2.80"/><rect x="524" y="200.33" width="1" height="2.73"/><rect x="525" y="200.37" width="1" height="2.67"/><rect x="526" y="200.40" width="1" height="2.60"/><rect x="527" y="200.43" width="1" height="2.54"/><rect x="528" y="200.46" width="1" height="2.48"/><rect x="529" y="200.49" width="1" height="2.43"/><rect x="530" y="200.51" width="1" height="2.38"/><rect x="531" y="200.54" width="1" height="2.33"/><rect x="532" y="200.56" width="1" height="2.28"/><rect x="533" y="200.58" width="1" height="2.24"/><rect x="534" y="200.60" width="1" height="2.20"/><rect x="535" y="200.62" width="1" height="2.16"/><rect x="536" y="200.64" width="1" height="2.12"/><rect x="537" y="200.66" width="1" height="2.08"/><rect x="538" y="200.68" width="1" height="2.04"/><rect x="539" y="200.70" width="1" height="2.00"/><rect x="540" y="200.72" width="1" height="1.97"/><rect x="541" y="200.73" width="1" height="1.93"/><rect x="542" y="200.75" width="1" height="1.90"/><rect x="543" y="200.77" width="1" height="1.86"/><rect x="544" y="200.79" width="1" height="1.82"/><rect x="545" y="200.81" width="1" height="1.78"/><rect x="546" y="200.83" width="1" height="1.74"/><rect x="547" y="200.85" width="1" height="1.69"/><rect x="548" y="200.88" width="1" height="1.65"/><rect x="549" y="200.90" width="1" height="1.61"/><rect x="550" y="200.92" width="1" height="1.56"/><rect x="551" y="200.94" width="1" height="1.52"/><rect x="552" y="200.96" width="1" height="1.48"/><rect x="553" y="200.98" width="1" height="1.44"/><rect x="554" y="201.00" width="1" height="1.40"/><rect x="555" y="201.02" width="1" height="1.36"/><rect x="556" y="201.04" width="1" height="1.32"/><rect x="557" y="201.06" width="1" height="1.28"/><rect x="558" y="201.08" width="1" height="1.25"/><rect x="559" y="201.09" width="1" height="1.22"/><rect x="560" y="201.11" width="1" height="1.19"/><rect x="561" y="201.12" width="1" height="1.16"/><rect x="562" y="201.13" width="1" height="1.13"/><rect x="563" y="201.15" width="1" height="1.11"/><rect x="564" y="201.16" width="1" height="1.08"/><rect x="565" y="201.17" width="1" height="1.06"/><rect x="566" y="201.18" width="1" height="1.04"/><rect x="567" y="201.19" width="1" height="1.01"/><rect x="568" y="201.21" width="1" height="0.99"/><rect x="569" y="201.22" width="1" height="0.96"/><rect x="570" y="201.23" width="1" height="0.94"/><rect x="571" y="201.24" width="1" height="0.91"/><rect x="572" y="201.26" width="1" height="0.89"/><rect x="573" y="201.27" width="1" height="0.86"/><rect x="574" y="201.28" width="1" height="0.84"/><rect x="575" y="201.29" width="1" height="0.81"/><rect x="576" y="201.31" width="1" height="0.79"/><rect x="577" y="201.32" width="1" height="0.76"/><rect x="578" y="201.33" width="1" height="0.74"/><rect x="579" y="201.34" width="1" height="0.72"/><rect x="580" y="201.35" width="1" height="0.70"/><rect x="581" y="201.36" width="1" height="0.67"/><rect x="582" y="201.38" width="1" height="0.65"/><rect x="583" y="201.39" width="1" height="0.62"/><rect x="584" y="201.41" width="1" height="0.58"/><rect x="585" y="201.43" width="1" height="0.54"/><rect x="586" y="201.45" width="1" height="0.49"/><rect x="587" y="201.48" width="1" height="0.44"/><rect x="588" y="201.51" width="1" height="0.38"/><rect x="589" y="201.54" width="1" height="0.32"/><rect x="590" y="201.57" width="0.8" height="0.27"/></g>
<rect x="258.5" y="32.5" width="379.4" height="200.8" fill="none" stroke="#333333" stroke-width="1.25"/>
<line x1="255.8" y1="54.3" x2="258.5" y2="54.3" stroke="#333" stroke-width="1"/>
<line x1="255.8" y1="91.2" x2="258.5" y2="91.2" stroke="#333" stroke-width="1"/>
<line x1="255.8" y1="128.1" x2="258.5" y2="128.1" stroke="#333" stroke-width="1"/>
<line x1="255.8" y1="164.7" x2="258.5" y2="164.7" stroke="#333" stroke-width="1"/>
<line x1="255.8" y1="201.3" x2="258.5" y2="201.3" stroke="#333" stroke-width="1"/>
<line x1="333.5" y1="233.3" x2="333.5" y2="235.4" stroke="#333" stroke-width="1"/>
<line x1="448.5" y1="233.3" x2="448.5" y2="235.4" stroke="#333" stroke-width="1"/>
<line x1="563.5" y1="233.3" x2="563.5" y2="235.4" stroke="#333" stroke-width="1"/>
<line x1="282" y1="259.5" x2="622" y2="259.5" stroke="#1a1a1a" stroke-width="1.2"/>
<polygon points="275.4,259.5 284,255 284,264" fill="#000"/>
<polygon points="628.6,259.5 620,255 620,264" fill="#000"/>
<g style="font-family:'Liberation Sans',sans-serif" fill="#000" stroke="#000" stroke-width="0.18">
<text x="183" y="8" font-size="10" text-anchor="middle">Risk Ratio</text>
<text x="125.3" y="20.4" font-size="10.2" textLength="117.5">[95% Confidence Interval]</text>
<text x="368.2" y="19.7" font-size="10.2" textLength="166.6">Risk Ratio [95% Confidence Interval]</text>
<text x="111.2" y="59.7" font-size="11.2" text-anchor="end">In-hospital mortality</text>
<text x="137.4" y="59.7" font-size="11.25">0.983 [0.870 - 1.155]</text>
<text x="111.2" y="96.6" font-size="11.2" text-anchor="end">30-day mortality</text>
<text x="137.4" y="96.6" font-size="11.25">1.057 [0.954 - 1.217]</text>
<text x="111.2" y="133.5" font-size="11.2" text-anchor="end">50-day mortality</text>
<text x="137.4" y="133.5" font-size="11.25">1.023 [0.916 - 1.186]</text>
<text x="111.2" y="170.1" font-size="11.2" text-anchor="end">Length of hospital stay</text>
<text x="137.4" y="170.1" font-size="11.25">1.163 [0.762 - 1.365]</text>
<text x="111.2" y="206.7" font-size="11.2" text-anchor="end">Onset of sepsis</text>
<text x="137.4" y="206.7" font-size="11.25">1.072 [0.875 - 1.222]</text>
<text x="333.5" y="247.1" font-size="10.9" text-anchor="middle" fill="#4d4d4d" stroke="#4d4d4d">0.5</text>
<text x="448.5" y="247.1" font-size="10.9" text-anchor="middle" fill="#4d4d4d" stroke="#4d4d4d">1.0</text>
<text x="563.5" y="247.1" font-size="10.9" text-anchor="middle" fill="#4d4d4d" stroke="#4d4d4d">1.5</text>
<text x="234.1" y="278.6" font-size="11.15" fill="#444" stroke="#444">Plasma exchange preferred</text>
<text x="504.9" y="278.6" font-size="11.2" fill="#444" stroke="#444">Plasma exchange not preferred</text>
</g>
</svg>
</body></html>
